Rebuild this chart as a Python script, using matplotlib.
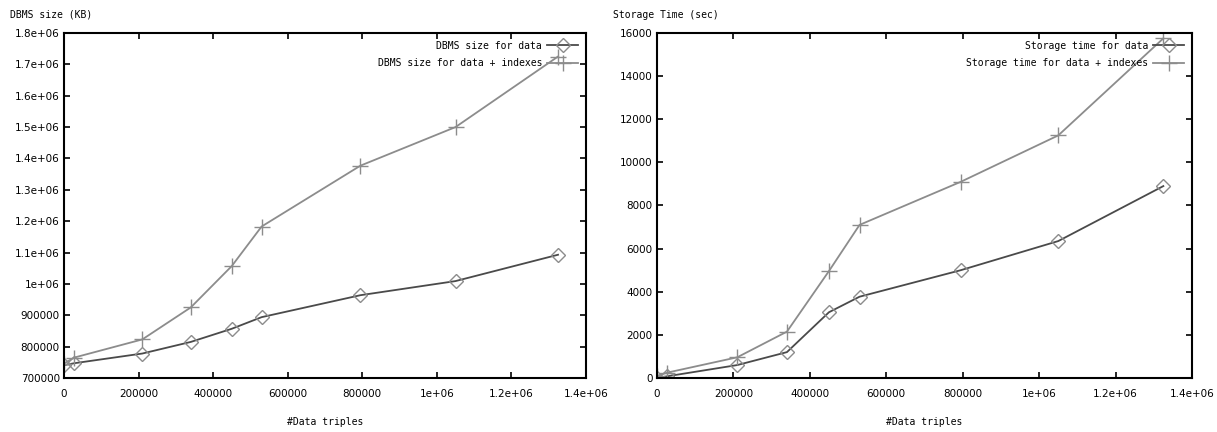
import matplotlib
matplotlib.use('Agg')
import matplotlib.pyplot as plt
from matplotlib.ticker import FuncFormatter

triples = [0, 27000, 210000, 340000, 450000, 530000, 795000, 1050000, 1325000]

size_data = [741000, 747000, 778000, 815000, 857000, 894000, 964000, 1009000, 1093000]
size_idx = [746000, 765000, 823000, 925000, 1057000, 1183000, 1377000, 1500000, 1725000]

time_data = [0, 80, 600, 1200, 3050, 3770, 5000, 6350, 8900]
time_idx = [100, 250, 960, 2150, 4960, 7100, 9100, 11250, 15750]

xticks = [0, 200000, 400000, 600000, 800000, 1000000, 1200000, 1400000]
size_ticks = [700000 + 100000 * i for i in range(12)]
time_ticks = [0, 2000, 4000, 6000, 8000, 10000, 12000, 14000, 16000]

dark = '#4a4a4a'
light = '#8c8c8c'
mono = 'DejaVu Sans Mono'


def gp_fmt(v, pos):
    if v >= 1000000:
        s = '%.1e' % v
        m, e = s.split('e')
        m = m.rstrip('0').rstrip('.')
        return m + 'e+%02d' % int(e)
    return '%d' % v


def setup(ax, ylabel, yticks, ymin, ymax, lab_dx):
    ax.set_xlim(0, 1400000)
    ax.set_ylim(ymin, ymax)
    ax.set_xticks(xticks)
    ax.set_yticks(yticks)
    ax.xaxis.set_major_formatter(FuncFormatter(gp_fmt))
    ax.yaxis.set_major_formatter(FuncFormatter(gp_fmt))
    ax.tick_params(direction='in', length=4, width=1.2, top=True, right=True,
                   labelsize=7.5, pad=8, colors='black')
    ax.tick_params(axis='y', pad=3)
    for s in ax.spines.values():
        s.set_linewidth(1.5)
    ax.set_xlabel('#Data triples', family=mono, fontsize=7, labelpad=13)
    ax.annotate(ylabel, xy=(0, 1), xycoords='axes fraction', xytext=(lab_dx, 13),
                textcoords='offset points', family=mono, fontsize=7,
                ha='left', va='center')
    ax.legend(loc='upper right', frameon=False, markerfirst=False,
              prop={'family': mono, 'size': 7}, handlelength=3.2,
              borderaxespad=0.4, labelspacing=0.75, handletextpad=0.5)


fig = plt.figure(figsize=(12.17, 4.32), dpi=100)
ax1 = fig.add_axes([64 / 1217, 54 / 432, 522 / 1217, 345 / 432])
ax2 = fig.add_axes([657 / 1217, 54 / 432, 535 / 1217, 345 / 432])

ax1.plot(triples, size_data, color=dark, lw=1.3, marker='D', ms=7,
         mfc='none', mec=light, mew=1.0, label='DBMS size for data')
ax1.plot(triples, size_idx, color=light, lw=1.3, marker='+', ms=11,
         mec=light, mew=1.0, label='DBMS size for data + indexes')
setup(ax1, 'DBMS size (KB)', size_ticks, 700000, 1800000, -39)

ax2.plot(triples, time_data, color=dark, lw=1.3, marker='D', ms=7,
         mfc='none', mec=light, mew=1.0, label='Storage time for data')
ax2.plot(triples, time_idx, color=light, lw=1.3, marker='+', ms=11,
         mec=light, mew=1.0, label='Storage time for data + indexes')
setup(ax2, 'Storage Time (sec)', time_ticks, 0, 16000, -32)

fig.savefig('out.png', dpi=100)
